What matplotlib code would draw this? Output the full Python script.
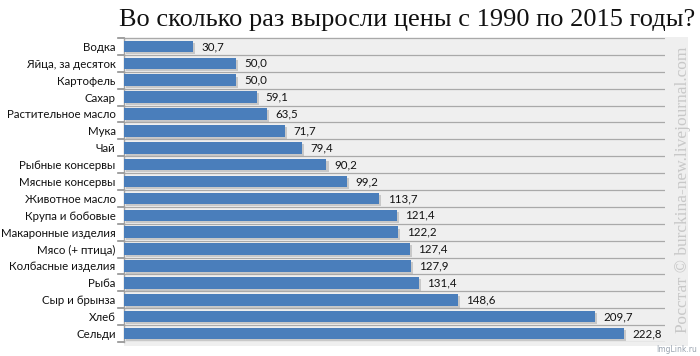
import matplotlib
matplotlib.use("Agg")
import matplotlib.pyplot as plt
import matplotlib.patheffects as pe
from matplotlib.patches import Rectangle

categories = ["Водка", "Яйца, за десяток", "Картофель", "Сахар", "Растительное масло",
              "Мука", "Чай", "Рыбные консервы", "Мясные консервы", "Животное масло",
              "Крупа и бобовые", "Макаронные изделия", "Мясо (+ птица)", "Колбасные изделия",
              "Рыба", "Сыр и брынза", "Хлеб", "Сельди"]
values = [30.7, 50.0, 50.0, 59.1, 63.5, 71.7, 79.4, 90.2, 99.2, 113.7,
          121.4, 122.2, 127.4, 127.9, 131.4, 148.6, 209.7, 222.8]
title = "Во сколько раз выросли цены с 1990 по 2015 годы?"

W, H = 700, 356
fig = plt.figure(figsize=(W / 100, H / 100), dpi=100)
fig.patch.set_facecolor("white")

# gray background panel
bg = fig.add_axes([124 / W, 1 - 346 / H, (688 - 124) / W, (346 - 37) / H], zorder=0)
bg.set_axis_off()
bg.add_patch(Rectangle((0, 0), 1, 1, transform=bg.transAxes, facecolor="#efefef", edgecolor="none"))

ax = fig.add_axes([124 / W, 1 - 342 / H, (665 - 124) / W, (342 - 38) / H], zorder=1)
ax.set_facecolor("none")

n = len(categories)
ypos = list(range(n))
bars = ax.barh(ypos, values, height=0.68, color="#4a7ebb", zorder=3)
for b in bars:
    b.set_path_effects([pe.SimplePatchShadow(offset=(1.5, -1.5), shadow_rgbFace="#9a9a9a", alpha=0.45),
                        pe.Normal()])

ax.set_xlim(0, 241)
ax.set_ylim(n - 0.5, -0.5)
ax.set_yticks(ypos)
ax.set_yticklabels(categories, fontsize=8.3, family="Lato", color="#111111")
ax.tick_params(axis="y", length=0, pad=6)
ax.set_xticks([])

# row separator lines and small ticks
for k in range(n + 1):
    yb = k - 0.5
    ax.axhline(yb, color="#a9a9a9", linewidth=0.9, zorder=1)
    ax.plot([-0.012, 0], [yb, yb], transform=ax.get_yaxis_transform(), color="#909090",
            linewidth=1.2, clip_on=False)

for s in ["top", "right", "bottom"]:
    ax.spines[s].set_visible(False)
ax.spines["left"].set_color("#a0a0a0")
ax.spines["left"].set_linewidth(1.0)

for y, v in zip(ypos, values):
    ax.annotate(f"{v:.1f}".replace(".", ","), (v, y), xytext=(6, 0), textcoords="offset points",
                va="center", ha="left", fontsize=8.3, family="Lato", color="#111111", zorder=4)

fig.text(695 / W, 1 - 20 / H, title, ha="right", va="center", fontsize=19,
         family="Liberation Serif", color="#111111")

fig.text(683 / W, 1 - 190 / H, "Росстат © burckina-new.livejournal.com", rotation=90,
         ha="center", va="center", fontsize=12.5, family="Liberation Serif", color="#c8c8c8",
         zorder=5)
fig.text(697 / W, 1 - 349 / H, "ImgLink.ru", ha="right", va="center", fontsize=5.5,
         family="DejaVu Sans", color="#9aa4b0")

fig.savefig("out.png", dpi=100, facecolor="white")
